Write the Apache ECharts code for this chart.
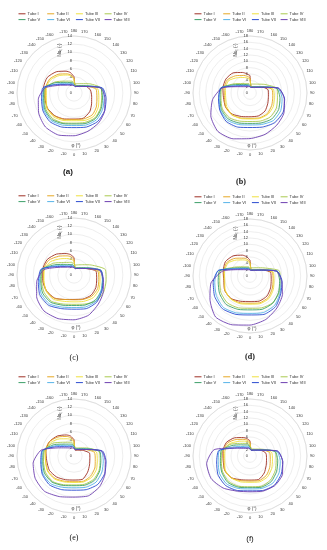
<!DOCTYPE html>
<html><head><meta charset="utf-8">
<script src="https://cdn.jsdelivr.net/npm/echarts@6/dist/echarts.min.js"></script>
<style>html,body{margin:0;padding:0;background:#fff;}#c{width:327px;height:550px;}</style>
</head><body><div id="c"></div>
<script>
// angle positions (degrees)
const phi = [-180,-170,-160,-140,-120,-100,-80,-60,-40,-20,0,20,40,60,80,100,120,140,160,170,180];
const tubeNames = ['Tube I','Tube II','Tube III','Tube IV','Tube V','Tube VI','Tube VII','Tube VIII'];
const radialTicksSmall = [0,2,4,6,8,10,12,14];
const radialTicksLarge = [0,2,4,6,8,10,12,14,16,18];

// panel (a)
const A_I    = [4.0,5.1,5.7,6.8,7.6,7.6,7.3,7.5,7.3,6.8,6.4,6.6,6.0,5.0,4.4,4.1,3.4,2.35,1.9,1.8,4.0];
const A_II   = [3.6,4.5,5.0,6.0,6.9,7.1,7.1,7.6,7.4,6.9,6.5,6.8,7.0,6.4,5.7,5.5,3.4,2.2,1.8,1.7,3.6];
const A_III  = [3.4,4.2,4.7,5.6,6.6,6.9,6.9,7.6,7.7,7.2,6.8,7.2,7.5,6.9,6.2,5.9,3.4,2.2,1.8,1.7,3.4];
const A_IV   = [2.5,2.95,3.1,3.8,5.4,7.2,7.4,8.0,8.2,7.8,7.4,7.7,8.0,7.5,6.9,6.8,4.5,3.0,2.45,2.3,2.5];
const A_V    = [2.1,2.65,2.75,3.4,5.1,7.4,7.6,8.25,8.5,8.0,7.6,8.0,8.2,7.7,7.1,6.7,3.6,2.35,1.9,1.8,2.1];
const A_VI   = [2.0,2.35,2.45,3.0,4.5,7.5,7.8,8.5,8.8,8.4,8.0,8.4,8.6,8.1,7.5,7.0,3.4,2.2,1.8,1.7,2.0];
const A_VII  = [1.8,2.15,2.25,2.75,4.2,7.7,8.1,8.8,9.2,8.9,8.5,8.9,9.1,8.7,8.0,7.1,3.2,2.1,1.7,1.6,1.8];
const A_VIII = [1.8,1.9,2.0,2.5,3.8,7.2,8.9,10.0,10.9,11.0,10.5,10.0,9.5,8.7,7.7,6.8,3.2,2.1,1.7,1.6,1.8];
// panel (b)
const B_I    = [5.5,6.2,6.9,8.3,8.8,8.7,8.5,8.9,8.7,7.9,7.5,7.7,7.4,6.5,5.9,5.8,4.0,2.6,2.1,2.0,5.5];
const B_II   = [4.8,5.4,5.9,7.1,8.3,8.3,8.2,8.9,9.0,8.4,8.0,8.4,8.5,7.9,7.3,7.0,4.0,2.6,2.1,2.0,4.8];
const B_III  = [4.2,4.8,5.2,6.3,7.8,7.9,7.8,8.5,8.9,8.6,8.2,8.6,8.8,8.5,7.8,7.4,4.0,2.6,2.1,2.0,4.2];
const B_IV   = [2.6,3.05,3.2,3.9,5.8,9.1,9.3,10.1,10.2,9.45,9.0,9.45,9.9,9.6,8.8,8.6,5.4,3.65,3.0,2.85,2.6];
const B_V    = [2.3,2.75,2.85,3.5,5.3,9.3,9.6,10.45,10.7,10.1,9.6,10.1,10.7,10.45,9.6,8.6,4.0,2.6,2.1,2.0,2.3];
const B_VI   = [2.1,2.45,2.55,3.1,4.7,9.4,9.9,10.8,11.2,10.6,10.1,10.6,11.4,11.2,10.3,8.9,3.8,2.5,2.0,1.9,2.1];
const B_VII  = [1.9,2.25,2.35,2.9,4.4,9.3,10.1,11.0,11.7,11.45,10.9,11.45,12.2,12.1,11.1,9.1,3.6,2.35,1.9,1.8,1.9];
const B_VIII = [2.0,2.05,2.15,2.6,4.0,9.0,12.0,14.3,15.8,15.4,14.4,13.9,13.2,12.4,11.0,9.0,3.6,2.35,1.9,1.8,2.0];
// panel (c)
const C_I    = [4.3,5.1,5.6,6.7,7.6,7.8,7.8,7.8,7.4,6.4,6.0,6.3,6.5,6.2,5.65,5.5,3.2,2.1,1.7,1.6,4.3];
const C_II   = [3.9,4.6,5.0,6.0,7.2,7.6,7.6,7.8,7.5,6.4,6.1,6.4,6.8,6.7,6.2,5.9,3.3,2.2,1.8,1.7,3.9];
const C_III  = [3.5,3.9,4.3,5.2,6.6,7.4,7.5,7.9,7.8,6.9,6.6,6.9,7.3,7.1,6.5,6.2,3.4,2.2,1.8,1.7,3.5];
const C_IV   = [2.6,3.15,3.3,4.0,5.8,7.9,8.1,8.5,8.5,7.6,7.2,7.6,8.4,8.4,8.0,7.8,4.9,3.3,2.65,2.5,2.6];
const C_V    = [2.2,2.65,2.75,3.4,5.1,8.0,8.3,8.9,8.8,7.9,7.5,7.85,8.1,7.7,7.1,6.7,3.6,2.35,1.9,1.8,2.2];
const C_VI   = [2.0,2.35,2.45,3.0,4.6,8.1,8.6,9.3,9.3,8.4,8.0,8.35,8.4,7.7,7.1,6.6,3.4,2.2,1.8,1.7,2.0];
const C_VII  = [1.85,2.15,2.25,2.75,4.2,8.2,8.9,9.7,9.7,8.8,8.4,8.8,8.7,7.9,7.3,6.7,3.2,2.1,1.7,1.6,1.85];
const C_VIII = [1.8,1.9,2.0,2.5,3.8,7.5,9.3,10.6,11.5,11.4,11.0,10.5,9.3,8.3,7.3,6.4,3.2,2.1,1.7,1.6,1.8];
// panel (d)
const D_I    = [5.0,6.2,7.0,8.3,9.0,8.6,8.4,9.2,9.3,8.5,8.1,8.45,8.3,7.5,6.8,6.6,4.0,2.6,2.1,2.0,5.0];
const D_II   = [4.5,5.4,6.0,7.3,8.5,8.4,8.3,9.2,9.4,9.0,8.6,9.0,8.9,8.1,7.4,7.1,4.0,2.6,2.1,2.0,4.5];
const D_III  = [4.0,4.9,5.4,6.6,8.1,8.2,8.1,9.0,9.5,9.3,8.9,9.3,9.3,8.5,7.7,7.4,4.0,2.6,2.1,2.0,4.0];
const D_IV   = [2.5,2.95,3.1,3.8,5.6,9.5,9.7,10.6,11.1,10.7,10.2,10.7,11.1,10.6,9.7,9.4,5.1,3.4,2.75,2.65,2.5];
const D_V    = [2.2,2.65,2.75,3.4,5.1,9.7,10.2,11.1,11.7,11.2,10.7,11.2,11.2,10.4,9.5,8.6,4.0,2.6,2.1,2.0,2.2];
const D_VI   = [2.0,2.45,2.55,3.1,4.7,10.2,11.3,12.3,13.0,12.4,11.8,12.3,12.1,10.9,10.0,8.8,3.8,2.5,2.0,1.9,2.0];
const D_VII  = [1.9,2.25,2.35,2.9,4.4,10.1,11.8,12.9,13.5,12.9,12.3,12.9,12.6,11.2,10.3,8.7,3.6,2.35,1.9,1.8,1.9];
const D_VIII = [1.9,2.0,2.1,2.6,4.0,8.8,12.5,14.6,16.9,16.4,15.5,14.6,13.2,11.8,10.2,8.6,3.8,2.4,1.95,1.85,1.9];
// panel (e)
const E_I    = [4.0,5.0,5.5,6.4,7.0,7.0,6.8,7.0,6.7,6.2,5.9,6.1,5.2,4.4,3.95,3.9,2.7,1.85,1.5,1.45,4.0];
const E_II   = [3.8,4.6,5.1,6.1,7.0,7.2,7.1,7.4,7.2,6.6,6.3,6.6,6.4,5.9,5.3,5.1,3.2,2.1,1.75,1.65,3.8];
const E_III  = [3.4,4.1,4.5,5.5,6.6,7.0,7.1,7.5,7.4,6.8,6.5,6.8,6.8,6.4,5.8,5.6,3.3,2.2,1.8,1.7,3.4];
const E_IV   = [2.7,3.45,3.6,4.4,6.2,7.4,7.6,8.1,8.2,7.5,7.1,7.4,7.5,7.1,6.5,6.3,3.9,2.6,2.1,2.0,2.7];
const E_V    = [2.4,2.95,3.1,3.8,5.6,7.6,7.8,8.4,8.4,7.7,7.3,7.65,7.8,7.3,6.7,6.4,3.6,2.35,1.9,1.8,2.4];
const E_VI   = [2.2,2.65,2.75,3.4,5.1,7.8,8.1,8.8,8.9,8.2,7.8,8.2,8.4,7.9,7.3,6.8,3.4,2.2,1.8,1.7,2.2];
const E_VII  = [2.0,2.35,2.45,3.0,4.6,7.9,8.3,9.0,9.3,8.8,8.4,8.8,9.1,8.7,8.0,7.1,3.2,2.1,1.7,1.6,2.0];
const E_VIII = [1.9,2.0,2.1,2.6,4.0,8.2,10.2,11.0,11.3,10.6,10.1,10.4,9.8,8.8,7.8,6.9,3.2,2.1,1.7,1.6,1.9];
// panel (f)
const F_I    = [4.8,5.6,6.2,7.5,8.6,8.7,8.6,9.2,9.0,8.0,7.6,7.9,7.0,5.9,5.3,5.1,3.8,2.6,2.1,2.0,4.8];
const F_II   = [4.4,5.1,5.6,6.8,8.2,8.5,8.4,9.2,9.1,8.3,7.9,8.3,8.0,7.2,6.5,6.3,4.0,2.6,2.1,2.0,4.4];
const F_III  = [4.0,4.6,5.0,6.0,7.6,8.1,8.1,9.0,9.1,8.7,8.3,8.7,8.6,7.9,7.2,6.9,4.0,2.6,2.1,2.0,4.0];
const F_IV   = [3.0,4.05,4.25,5.2,7.3,9.0,9.2,10.0,10.5,10.2,9.7,10.2,10.0,9.2,8.4,8.0,4.3,2.85,2.35,2.25,3.0];
const F_V    = [2.7,3.55,3.7,4.6,6.6,9.3,9.5,10.3,10.9,10.5,10.0,10.5,10.5,9.7,8.9,8.1,4.0,2.6,2.1,2.0,2.7];
const F_VI   = [2.4,3.05,3.2,3.9,5.8,9.8,10.2,11.1,11.5,10.9,10.4,10.9,11.2,10.6,9.7,8.6,3.8,2.5,2.0,1.9,2.4];
const F_VII  = [2.2,2.65,2.75,3.4,5.1,10.0,10.7,11.7,12.1,11.6,11.0,11.6,12.0,11.4,10.5,8.9,3.6,2.35,1.9,1.8,2.2];
const F_VIII = [2.3,2.5,2.6,3.2,5.0,11.5,13.9,14.2,13.2,11.8,11.3,11.8,12.2,11.8,10.5,8.8,3.8,2.5,2.0,1.9,2.3];

const tubeColors = ['#9e2f24','#e6a722','#efe03c','#a9c94e','#3b9f68','#55b3e8','#2a4bd0','#6d3fb0'];

const panels = [
  {cap:'(a)', cx:74,  cy:93,  ticks:radialTicksSmall, tubes:[A_I,A_II,A_III,A_IV,A_V,A_VI,A_VII,A_VIII], capX:68,  capY:172, capFont:'Liberation Sans', capWeight:'bold'},
  {cap:'(b)', cx:250, cy:93,  ticks:radialTicksLarge, tubes:[B_I,B_II,B_III,B_IV,B_V,B_VI,B_VII,B_VIII], capX:241, capY:182, capFont:'Liberation Serif', capWeight:'bold'},
  {cap:'(c)', cx:74,  cy:275, ticks:radialTicksSmall, tubes:[C_I,C_II,C_III,C_IV,C_V,C_VI,C_VII,C_VIII], capX:74,  capY:358, capFont:'Liberation Serif', capWeight:'normal'},
  {cap:'(d)', cx:250, cy:276, ticks:radialTicksLarge, tubes:[D_I,D_II,D_III,D_IV,D_V,D_VI,D_VII,D_VIII], capX:250, capY:357, capFont:'Liberation Serif', capWeight:'bold'},
  {cap:'(e)', cx:74,  cy:456, ticks:radialTicksSmall, tubes:[E_I,E_II,E_III,E_IV,E_V,E_VI,E_VII,E_VIII], capX:74,  capY:538, capFont:'Liberation Serif', capWeight:'normal'},
  {cap:'(f)', cx:250, cy:456, ticks:radialTicksLarge, tubes:[F_I,F_II,F_III,F_IV,F_V,F_VI,F_VII,F_VIII], capX:250, capY:539, capFont:'Liberation Sans', capWeight:'normal'}
];

const R = 57;
const FONT = 'Liberation Sans';
const option = {
  animation: false,
  backgroundColor: '#ffffff',
  textStyle: {fontFamily: FONT},
  polar: [], angleAxis: [], radiusAxis: [], series: [], legend: [], graphic: []
};

panels.forEach((p, pi) => {
  option.polar.push({center: [p.cx, p.cy], radius: R});
  option.angleAxis.push({
    polarIndex: pi, type: 'value', min: -180, max: 180, interval: 10,
    startAngle: 90, clockwise: false,
    axisLine: {show: true, lineStyle: {color: '#d4d4d4', width: 0.6}},
    axisTick: {show: false},
    splitLine: {show: false},
    axisLabel: {fontSize: 4, color: '#3a3a3a', margin: 3, fontFamily: FONT,
      formatter: v => (Math.abs(v) === 180 ? '180' : String(v))}
  });
  option.radiusAxis.push({
    polarIndex: pi, type: 'value', min: 0, max: p.ticks[p.ticks.length - 1], interval: 2,
    axisLine: {show: false}, axisTick: {show: false},
    splitLine: {show: true, lineStyle: {color: '#e2e2e2', width: 0.6}},
    axisLabel: {fontSize: 4, color: '#3a3a3a', margin: 2, fontFamily: FONT}
  });
  p.tubes.forEach((vals, ti) => {
    option.series.push({
      type: 'line', coordinateSystem: 'polar', polarIndex: pi,
      name: tubeNames[ti], smooth: 0.2, symbol: 'none', showSymbol: false,
      lineStyle: {width: 0.9, color: tubeColors[ti]}, itemStyle: {color: tubeColors[ti]},
      data: phi.map((a, k) => [vals[k], a]), z: 3 + ti
    });
    option.legend.push({
      data: [{name: tubeNames[ti], icon: 'rect'}], selectedMode: false, padding: 0,
      left: p.cx - 55.5 + 28.7 * (ti % 4), top: p.cy - 81.2 + 5.8 * Math.floor(ti / 4),
      itemWidth: 7, itemHeight: 1, itemGap: 0,
      textStyle: {fontSize: 4, color: '#333', fontFamily: FONT, padding: [0, 0, 0, -3]}
    });
  });
  option.graphic.push({
    type: 'text', x: p.cx - 14, y: p.cy - 43, rotation: Math.PI / 2,
    style: {text: '{a|Nu}{b|ξ}{a| (-)}', fill: '#3a3a3a', align: 'center', verticalAlign: 'middle',
      rich: {a: {fontSize: 4.5, fontFamily: FONT, fill: '#3a3a3a'}, b: {fontSize: 3, fontFamily: FONT, fill: '#3a3a3a', verticalAlign: 'bottom', padding: [2, 0, 0, 0]}}}
  });
  option.graphic.push({
    type: 'text', x: p.cx + 2, y: p.cy + 53,
    style: {text: 'φ (°)', fontSize: 4.5, fontFamily: FONT, fill: '#3a3a3a', align: 'center', verticalAlign: 'middle'}
  });
  option.graphic.push({
    type: 'text', x: p.capX, y: p.capY,
    style: {text: p.cap, fontSize: 8, fontFamily: p.capFont, fontWeight: p.capWeight, fill: '#111', align: 'center', verticalAlign: 'middle'}
  });
});

const chart = echarts.init(document.getElementById('c'), null, {renderer: 'canvas'});
chart.setOption(option);
</script></body></html>
